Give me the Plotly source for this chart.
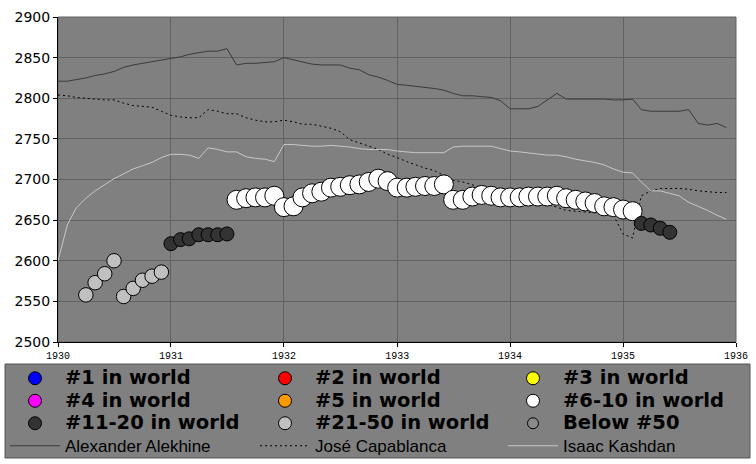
import plotly.graph_objects as go

# Monthly dates 1930-01 .. 1935-12
months = [f"{y}-{m:02d}" for y in range(1930, 1936) for m in range(1, 13)]

alekhine = [2821, 2821, 2823, 2825, 2828, 2830, 2833, 2838, 2841, 2843, 2845, 2847,
            2849, 2851, 2854, 2856, 2858, 2858, 2861, 2841, 2843, 2843, 2844, 2845,
            2850, 2847, 2845, 2842, 2841, 2841, 2841, 2837, 2835, 2829, 2826, 2822,
            2817, 2816, 2815, 2814, 2812, 2810, 2806, 2803, 2803, 2802, 2801, 2797,
            2787, 2787, 2787, 2790, 2798, 2806, 2799, 2799, 2799, 2799, 2799, 2798,
            2798, 2799, 2786, 2784, 2784, 2784, 2784, 2786, 2769, 2767, 2769, 2764]

capablanca = [2804, 2803, 2801, 2800, 2799, 2798, 2798, 2794, 2791, 2790, 2789, 2784,
              2779, 2777, 2776, 2776, 2786, 2784, 2781, 2781, 2776, 2773, 2771, 2771,
              2773, 2771, 2768, 2768, 2766, 2763, 2759, 2749, 2745, 2741, 2737, 2731,
              2727, 2722, 2718, 2714, 2711, 2705, 2699, 2697, 2693, 2690, 2687, 2684,
              2681, 2678, 2675, 2672, 2669, 2666, 2662, 2661, 2660, 2659, 2658, 2656,
              2633, 2628, 2680, 2686, 2689, 2689, 2689, 2688, 2686, 2685, 2684, 2684]

kashdan = [2600, 2645, 2665, 2677, 2686, 2694, 2701, 2707, 2713, 2717, 2721, 2727,
           2731, 2731, 2730, 2726, 2739, 2737, 2734, 2734, 2728, 2726, 2725, 2722,
           2743, 2743, 2742, 2741, 2741, 2742, 2741, 2740, 2738, 2737, 2737, 2737,
           2735, 2734, 2733, 2733, 2733, 2733, 2740, 2741, 2741, 2741, 2741, 2738,
           2735, 2734, 2733, 2731, 2730, 2730, 2728, 2725, 2723, 2721, 2718, 2713,
           2709, 2708, 2697, 2686, 2686, 2683, 2680, 2672, 2667, 2662, 2656, 2651]

# Kashdan's own rating, grouped by world rank band
rank_21_50_dates = ["1930-04", "1930-05", "1930-06", "1930-07",
                    "1930-08", "1930-09", "1930-10", "1930-11", "1930-12"]
rank_21_50_vals = [2558, 2573, 2584, 2600, 2556, 2566, 2576, 2581, 2586]

rank_11_20_dates = ["1931-01", "1931-02", "1931-03", "1931-04", "1931-05", "1931-06", "1931-07",
                    "1935-03", "1935-04", "1935-05", "1935-06"]
rank_11_20_vals = [2621, 2626, 2627, 2632, 2632, 2632, 2633,
                   2646, 2644, 2640, 2635]

rank_6_10_dates = months[19:62]
rank_6_10_vals = [2675, 2677, 2678, 2678, 2680, 2666, 2667, 2678, 2683, 2685, 2690, 2691,
                  2693, 2694, 2697, 2701, 2698, 2690, 2690, 2691, 2692, 2692, 2694, 2675,
                  2675, 2679, 2681, 2680, 2678, 2678, 2678, 2679, 2679, 2679, 2680, 2677,
                  2675, 2673, 2671, 2667, 2666, 2663, 2661]

rank_labels = ["#1 in world", "#2 in world", "#3 in world",
               "#4 in world", "#5 in world", "#6-10 in world",
               "#11-20 in world", "#21-50 in world", "Below #50"]
rank_colors = ["#0000ff", "#ff0000", "#ffff00",
               "#ff00ff", "#ff9900", "#ffffff",
               "#333333", "#c0c0c0", "#8a8a8a"]

y_ticks = [2500, 2550, 2600, 2650, 2700, 2750, 2800, 2850, 2900]
x_ticks = ["1930-01-01", "1931-01-01", "1932-01-01", "1933-01-01",
           "1934-01-01", "1935-01-01", "1936-01-01"]
x_labels = ["1930", "1931", "1932", "1933", "1934", "1935", "1936"]

W, H = 756, 464
ML, MR, MT, MB = 58, 20, 17, 122
PW, PH = W - ML - MR, H - MT - MB

def px_x(p):
    return (p - ML) / PW

def px_y(p):
    return (H - MB - p) / PH

fig = go.Figure()

def line_name(t):
    return ("<span style='font-family:Liberation Sans;font-weight:normal;"
            "font-size:17px'>" + t + "</span>")

def rank_name(t):
    return "<span style='font-size:19.5px'>" + t + "</span>"

# comparison players (lines)
fig.add_trace(go.Scatter(x=months, y=alekhine, mode="lines", name=line_name("Alexander Alekhine"),
                         line=dict(color="#3a3a3a", width=1), legend="legend", legendrank=10))
fig.add_trace(go.Scatter(x=months, y=capablanca, mode="lines", name=line_name("José Capablanca"),
                         line=dict(color="#000000", width=1, dash="2px,3px"),
                         legend="legend2", legendrank=10))
fig.add_trace(go.Scatter(x=months, y=kashdan, mode="lines", name=line_name("Isaac Kashdan"),
                         line=dict(color="#c8c8c8", width=1), legend="legend3", legendrank=10))

# Kashdan's rating markers by rank band (data traces, legend shown via entries below)
def data_markers(label, x, y, size):
    i = rank_labels.index(label)
    fig.add_trace(go.Scatter(x=x, y=y, mode="markers", name=label, legendgroup=label,
                             showlegend=False,
                             marker=dict(color=rank_colors[i], size=size,
                                         line=dict(color="#000000", width=1))))

data_markers("#6-10 in world", rank_6_10_dates, rank_6_10_vals, 19)
data_markers("#11-20 in world", rank_11_20_dates, rank_11_20_vals, 14)
data_markers("#21-50 in world", rank_21_50_dates, rank_21_50_vals, 14.5)

# legend entries (3 columns, row-major order)
legend_ids = ["legend", "legend2", "legend3"]
for i, (label, color) in enumerate(zip(rank_labels, rank_colors)):
    fig.add_trace(go.Scatter(x=[None], y=[None], mode="markers", name=rank_name(label),
                             legendgroup=label, legend=legend_ids[i % 3], legendrank=i // 3 + 1,
                             marker=dict(color=color, size=11 if label == "Below #50" else 13,
                                         line=dict(color="#000000", width=1))))

def leg(xpx):
    return dict(
        orientation="v", xref="paper", yref="paper",
        x=px_x(xpx), xanchor="left", y=px_y(362), yanchor="top",
        bgcolor="rgba(0,0,0,0)", borderwidth=0,
        font=dict(family="DejaVu Sans", size=15, color="#000000", weight="bold"),
        itemsizing="trace", itemwidth=50, traceorder="normal",
        tracegroupgap=0,
    )

fig.update_layout(
    width=W, height=H,
    margin=dict(l=ML, r=MR, t=MT, b=MB, autoexpand=False),
    paper_bgcolor="#ffffff",
    plot_bgcolor="#808080",
    showlegend=True,
    legend=leg(5), legend2=leg(255), legend3=leg(503),
    xaxis=dict(
        type="date", range=["1930-01-01", "1936-01-01"],
        tickvals=x_ticks, ticktext=x_labels,
        showgrid=True, gridcolor="#626262", gridwidth=1,
        showline=True, linecolor="#000000", linewidth=1,
        ticks="outside", ticklen=4, tickcolor="#000000",
        tickfont=dict(family="Liberation Mono", size=10, color="#000000"),
        zeroline=False, automargin=False,
    ),
    yaxis=dict(
        range=[2500, 2900], tickvals=y_ticks,
        showgrid=True, gridcolor="#626262", gridwidth=1,
        showline=True, linecolor="#000000", linewidth=1,
        ticks="outside", ticklen=4, tickcolor="#000000",
        tickfont=dict(family="DejaVu Sans", size=14, color="#000000"),
        zeroline=False, automargin=False,
    ),
    shapes=[
        dict(type="rect", xref="paper", yref="paper", x0=0, x1=1, y0=0, y1=1,
             line=dict(color="#626262", width=1), layer="below"),
        dict(type="rect", xref="paper", yref="paper",
             x0=px_x(5), x1=px_x(750), y0=px_y(364), y1=px_y(458),
             fillcolor="#808080", line=dict(color="#555555", width=1), layer="below"),
    ],
)

fig.write_html("out.html", post_script="document.body.style.margin='0';",
               config={"displayModeBar": False})
